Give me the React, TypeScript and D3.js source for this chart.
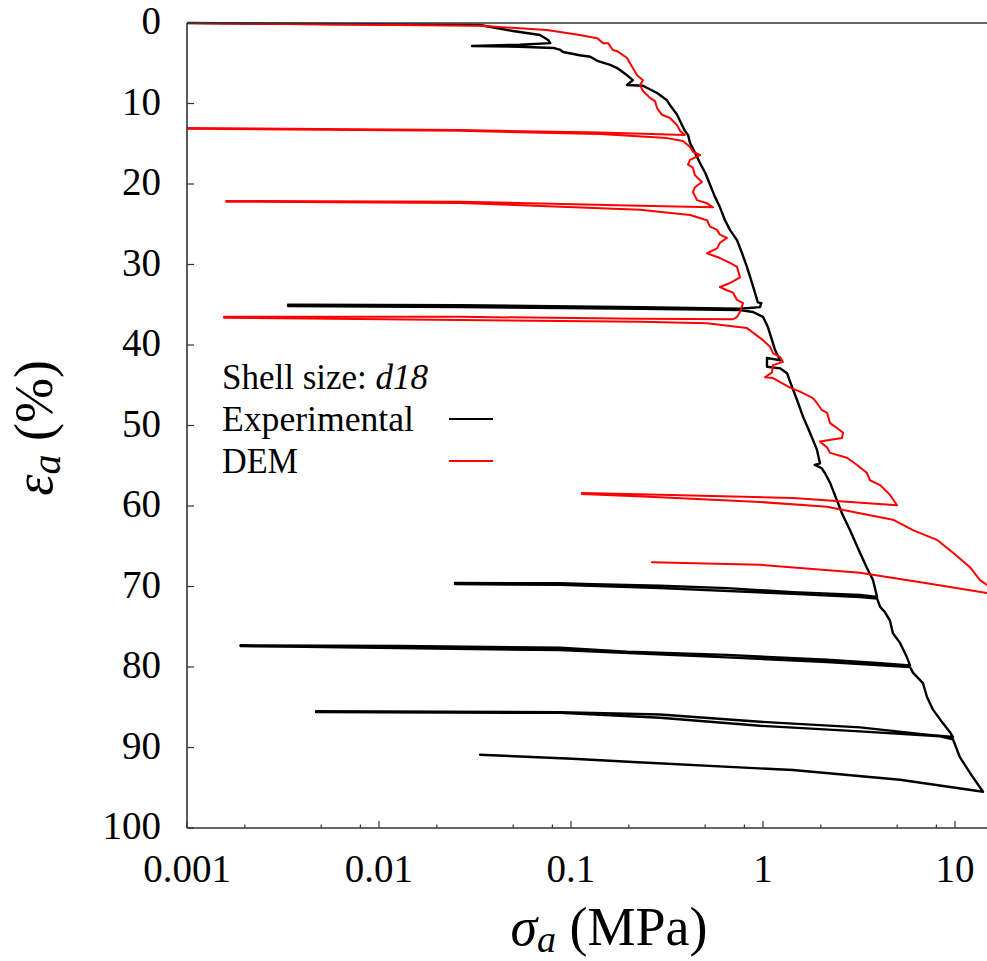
import React from "react";
import * as d3 from "d3";

// ---------- data (sigma_a in MPa, epsilon_a in %) ----------
const xMajorTicks = [0.001, 0.01, 0.1, 1, 10];
const xMajorLabels = ["0.001", "0.01", "0.1", "1", "10"];
const xMinorTicks = [0.002, 0.005, 0.008, 0.02, 0.05, 0.08, 0.2, 0.5, 0.8, 2, 5, 8];
const yTicks = [0, 10, 20, 30, 40, 50, 60, 70, 80, 90, 100];

const legendTitle = "Shell size: ";
const legendShell = "d18";
const seriesNames = ["Experimental", "DEM"];

const experimental: [number, number][] = [
  [0.001, 0], [0.0336, 0.25], [0.0499, 1.0], [0.069, 1.49], [0.076, 2.1], [0.078, 2.5],
  [0.054, 2.7], [0.0305, 2.85], [0.054, 2.95], [0.081, 3.1], [0.088, 3.35], [0.091, 3.6],
  [0.111, 4.0], [0.126, 4.2], [0.137, 4.7], [0.16, 5.2], [0.174, 5.6], [0.196, 6.5],
  [0.21, 7.1], [0.196, 7.7], [0.237, 7.8], [0.281, 8.7], [0.316, 9.6], [0.328, 10.2],
  [0.357, 11.4], [0.379, 12.7], [0.392, 13.4], [0.407, 13.9], [0.417, 14.9], [0.442, 16.1],
  [0.47, 17.4], [0.5, 18.6], [0.53, 20.1], [0.562, 21.6], [0.597, 22.9], [0.634, 24.5],
  [0.673, 25.7], [0.733, 27.0], [0.778, 28.6], [0.825, 30.3], [0.877, 32.3], [0.908, 33.5],
  [0.94, 34.7], [0.98, 34.8], [0.964, 35.3],
  // unload / reload 1
  [0.759, 35.5], [0.229, 35.3], [0.0264, 35.05], [0.00336, 35.0],
  [0.00336, 35.15], [0.0264, 35.3], [0.229, 35.5], [0.759, 35.65], [0.887, 35.9],
  [1.0, 36.5], [1.062, 37.8], [1.114, 39.4], [1.155, 40.6], [1.227, 41.9],
  [1.049, 41.6], [1.049, 42.7], [1.227, 42.9], [1.334, 43.5], [1.416, 45.2], [1.503, 46.8],
  [1.616, 48.9], [1.757, 50.9], [1.909, 53.0], [1.98, 54.7], [1.86, 54.9], [2.02, 55.3],
  [2.1, 55.9], [2.234, 57.1], [2.428, 59.3], [2.577, 60.9], [2.84, 63.0], [3.2, 65.8],
  [3.48, 67.7], [3.74, 69.2], [3.93, 71.3],
  // unload / reload 2
  [3.2, 71.05], [1.432, 70.7], [0.649, 70.2], [0.291, 69.9], [0.13, 69.7], [0.0877, 69.6],
  [0.0249, 69.55], [0.0249, 69.7], [0.0877, 69.8], [0.291, 70.2], [1.432, 70.9], [3.2, 71.3],
  [3.93, 71.5], [4.07, 72.5], [4.32, 73.2], [4.58, 74.2], [4.75, 75.8], [5.17, 77.0],
  [5.62, 78.8], [5.83, 79.8],
  // unload / reload 3
  [3.93, 79.5], [2.154, 79.1], [0.649, 78.5], [0.196, 78.1], [0.0877, 77.6], [0.0129, 77.4],
  [0.0019, 77.3], [0.0019, 77.4], [0.0041, 77.5], [0.0877, 77.9], [0.649, 78.8], [2.154, 79.4],
  [5.83, 80.0], [6.04, 80.7], [6.81, 82.0], [7.14, 83.7], [7.68, 85.3], [8.66, 87.0],
  [9.42, 88.1], [9.77, 88.7],
  // unload / reload 4
  [7.14, 88.4], [3.2, 87.5], [0.964, 86.8], [0.291, 85.9], [0.0877, 85.6], [0.0047, 85.5],
  [0.0047, 85.6], [0.0877, 85.7], [0.291, 86.3], [0.964, 87.3], [3.2, 88.0], [8.35, 88.6],
  [9.77, 89.0], [10.6, 91.2], [12.4, 93.7], [14.0, 95.5],
  // final unload
  [5.17, 94.0], [1.432, 92.8], [0.21, 91.8], [0.102, 91.4], [0.0336, 90.9],
];

const dem: [number, number][] = [
  [0.001, 0], [0.0336, 0.35], [0.075, 0.87], [0.111, 1.5], [0.137, 1.9], [0.147, 2.5],
  [0.156, 2.5], [0.165, 3.35], [0.174, 3.5], [0.196, 4.35], [0.203, 5.0], [0.21, 5.6],
  [0.221, 6.5], [0.237, 7.1], [0.229, 7.7], [0.237, 8.45], [0.258, 9.3], [0.274, 9.7],
  [0.281, 10.6], [0.298, 11.4], [0.328, 11.8], [0.357, 12.7], [0.37, 13.4], [0.392, 13.9],
  // unload / reload 1
  [0.142, 13.6], [0.0264, 13.3], [0.001, 13.05], [0.001, 13.15], [0.0264, 13.4], [0.142, 13.8],
  [0.316, 14.3], [0.383, 14.65], [0.417, 15.4], [0.432, 16.0], [0.47, 16.4], [0.417, 17.0],
  [0.407, 17.6], [0.432, 18.0], [0.442, 18.9], [0.481, 19.75], [0.442, 20.4], [0.432, 21.0],
  [0.453, 22.0], [0.511, 22.4], [0.549, 22.9],
  // unload / reload 2
  [0.229, 22.7], [0.0264, 22.2], [0.0016, 22.1], [0.0016, 22.2], [0.0264, 22.35], [0.229, 23.2],
  [0.417, 23.85], [0.511, 24.5], [0.53, 25.3], [0.576, 25.7], [0.597, 26.3], [0.649, 26.7],
  [0.597, 27.3], [0.576, 28.0], [0.511, 28.6], [0.597, 29.2], [0.673, 29.8], [0.733, 30.3],
  [0.759, 31.6], [0.673, 32.3], [0.597, 32.8], [0.649, 33.2], [0.698, 33.5], [0.733, 34.4],
  [0.787, 34.8], [0.759, 35.9], [0.733, 36.5], [0.698, 36.8],
  // unload / reload 3
  [0.229, 36.75], [0.0264, 36.5], [0.00156, 36.5], [0.00156, 36.6], [0.0264, 36.9],
  [0.229, 37.1], [0.511, 37.3], [0.825, 37.9], [1.0, 39.4], [1.087, 40.2], [1.127, 41.0],
  [1.227, 41.5], [1.27, 42.1], [1.127, 42.5], [1.114, 43.4], [1.024, 44.0], [1.127, 44.1],
  [1.383, 45.3], [1.558, 45.8], [1.821, 46.6], [1.909, 47.2], [2.028, 48.1], [2.154, 48.4],
  [2.234, 49.7], [2.428, 50.3], [2.611, 50.9], [2.577, 51.55], [1.98, 52.0], [2.154, 52.7],
  [2.234, 53.4], [2.738, 54.0], [3.09, 54.9], [3.48, 55.9], [3.61, 56.8], [4.07, 57.4],
  [4.58, 58.6], [4.99, 59.9],
  // unload / reload 4
  [1.432, 59.0], [0.291, 58.6], [0.114, 58.4], [0.114, 58.5], [0.291, 58.9], [0.964, 59.5],
  [2.154, 60.1], [4.75, 61.7], [6.04, 63.0], [8.05, 64.2], [9.77, 65.8], [11.97, 67.6],
  [13.5, 69.2], [14.68, 69.8], [17.0, 71.6],
  // unload 5
  [14.68, 70.8], [7.14, 69.6], [3.2, 68.3], [0.964, 67.3], [0.264, 67.0],
];

// ---------- layout ----------
const W = 987;
const H = 961;
const left = 187;
const right = 987;
const top = 23;
const bottom = 828;

const serif = "Liberation Serif, Times New Roman, Times, serif";

export default function App() {
  const x = d3.scaleLog().domain([0.001, 14.68]).range([left, right]);
  const y = d3.scaleLinear().domain([0, 100]).range([top, bottom]);
  const line = d3
    .line<[number, number]>()
    .x((d) => x(d[0]))
    .y((d) => y(d[1]));

  const axisColor = "#333";
  const txt = { fontFamily: serif } as React.CSSProperties;

  return (
    <svg
      width={W}
      height={H}
      viewBox={`0 0 ${W} ${H}`}
      style={{ position: "absolute", left: 0, top: 0, background: "#fff", fontFamily: serif }}
    >
      <defs>
        <clipPath id="plotclip">
          <rect x={left} y={top - 3} width={right - left + 2} height={bottom - top + 3} />
        </clipPath>
      </defs>

      {/* data */}
      <g clipPath="url(#plotclip)" fill="none" strokeLinejoin="round" strokeLinecap="round">
        <path d={line(experimental) || ""} stroke="#000" strokeWidth={2.4} />
        <path d={line(dem) || ""} stroke="#ff0000" strokeWidth={2} />
      </g>

      {/* axes */}
      <g stroke={axisColor} strokeWidth={1.6}>
        <line x1={left} x2={left} y1={top} y2={bottom} />
        <line x1={left} x2={right} y1={bottom} y2={bottom} />
        <line x1={left} x2={right} y1={top} y2={top} />
        {yTicks.map((t) => (
          <line key={"yt" + t} x1={left} x2={left + 7} y1={y(t)} y2={y(t)} strokeWidth={1.2} />
        ))}
        {xMajorTicks.map((t) => (
          <line key={"xt" + t} x1={x(t)} x2={x(t)} y1={bottom} y2={bottom - 7} strokeWidth={1.2} />
        ))}
        {xMinorTicks.map((t) => (
          <line key={"xm" + t} x1={x(t)} x2={x(t)} y1={bottom} y2={bottom - 3.5} strokeWidth={1.2} />
        ))}
      </g>

      {/* tick labels */}
      <g fontSize={39} fill="#000" style={txt}>
        {yTicks.map((t) => (
          <text key={"yl" + t} x={161} y={y(t) + 11} textAnchor="end" style={txt}>
            {t}
          </text>
        ))}
        {xMajorTicks.map((t, i) => (
          <text key={"xl" + t} x={x(t)} y={882} textAnchor="middle" style={txt}>
            {xMajorLabels[i]}
          </text>
        ))}
      </g>

      {/* x title */}
      <text x={609} y={945} textAnchor="middle" fontSize={54} fill="#000" style={txt}>
        <tspan fontStyle="italic">σ</tspan>
        <tspan fontStyle="italic" fontSize={38} dy={7}>a</tspan>
        <tspan dy={-7}> (MPa)</tspan>
      </text>

      {/* y title */}
      <text
        transform="translate(52,428) rotate(-90)"
        textAnchor="middle"
        fontSize={54}
        fill="#000"
        style={txt}
      >
        <tspan fontStyle="italic">ε</tspan>
        <tspan fontStyle="italic" fontSize={40} dy={8}>a</tspan>
        <tspan dy={-8}> (%)</tspan>
      </text>

      {/* legend */}
      <g fontSize={35} fill="#000" style={txt}>
        <text x={222} y={389} style={txt}>
          {legendTitle}
          <tspan fontStyle="italic">{legendShell}</tspan>
        </text>
        <text x={222} y={431} textLength={192} lengthAdjust="spacingAndGlyphs" style={txt}>
          {seriesNames[0]}
        </text>
        <text x={222} y={473} textLength={76} lengthAdjust="spacingAndGlyphs" style={txt}>
          {seriesNames[1]}
        </text>
      </g>
      <line x1={449} x2={493} y1={419} y2={419} stroke="#000" strokeWidth={2} />
      <line x1={449} x2={493} y1={461} y2={461} stroke="#ff0000" strokeWidth={2} />
    </svg>
  );
}
